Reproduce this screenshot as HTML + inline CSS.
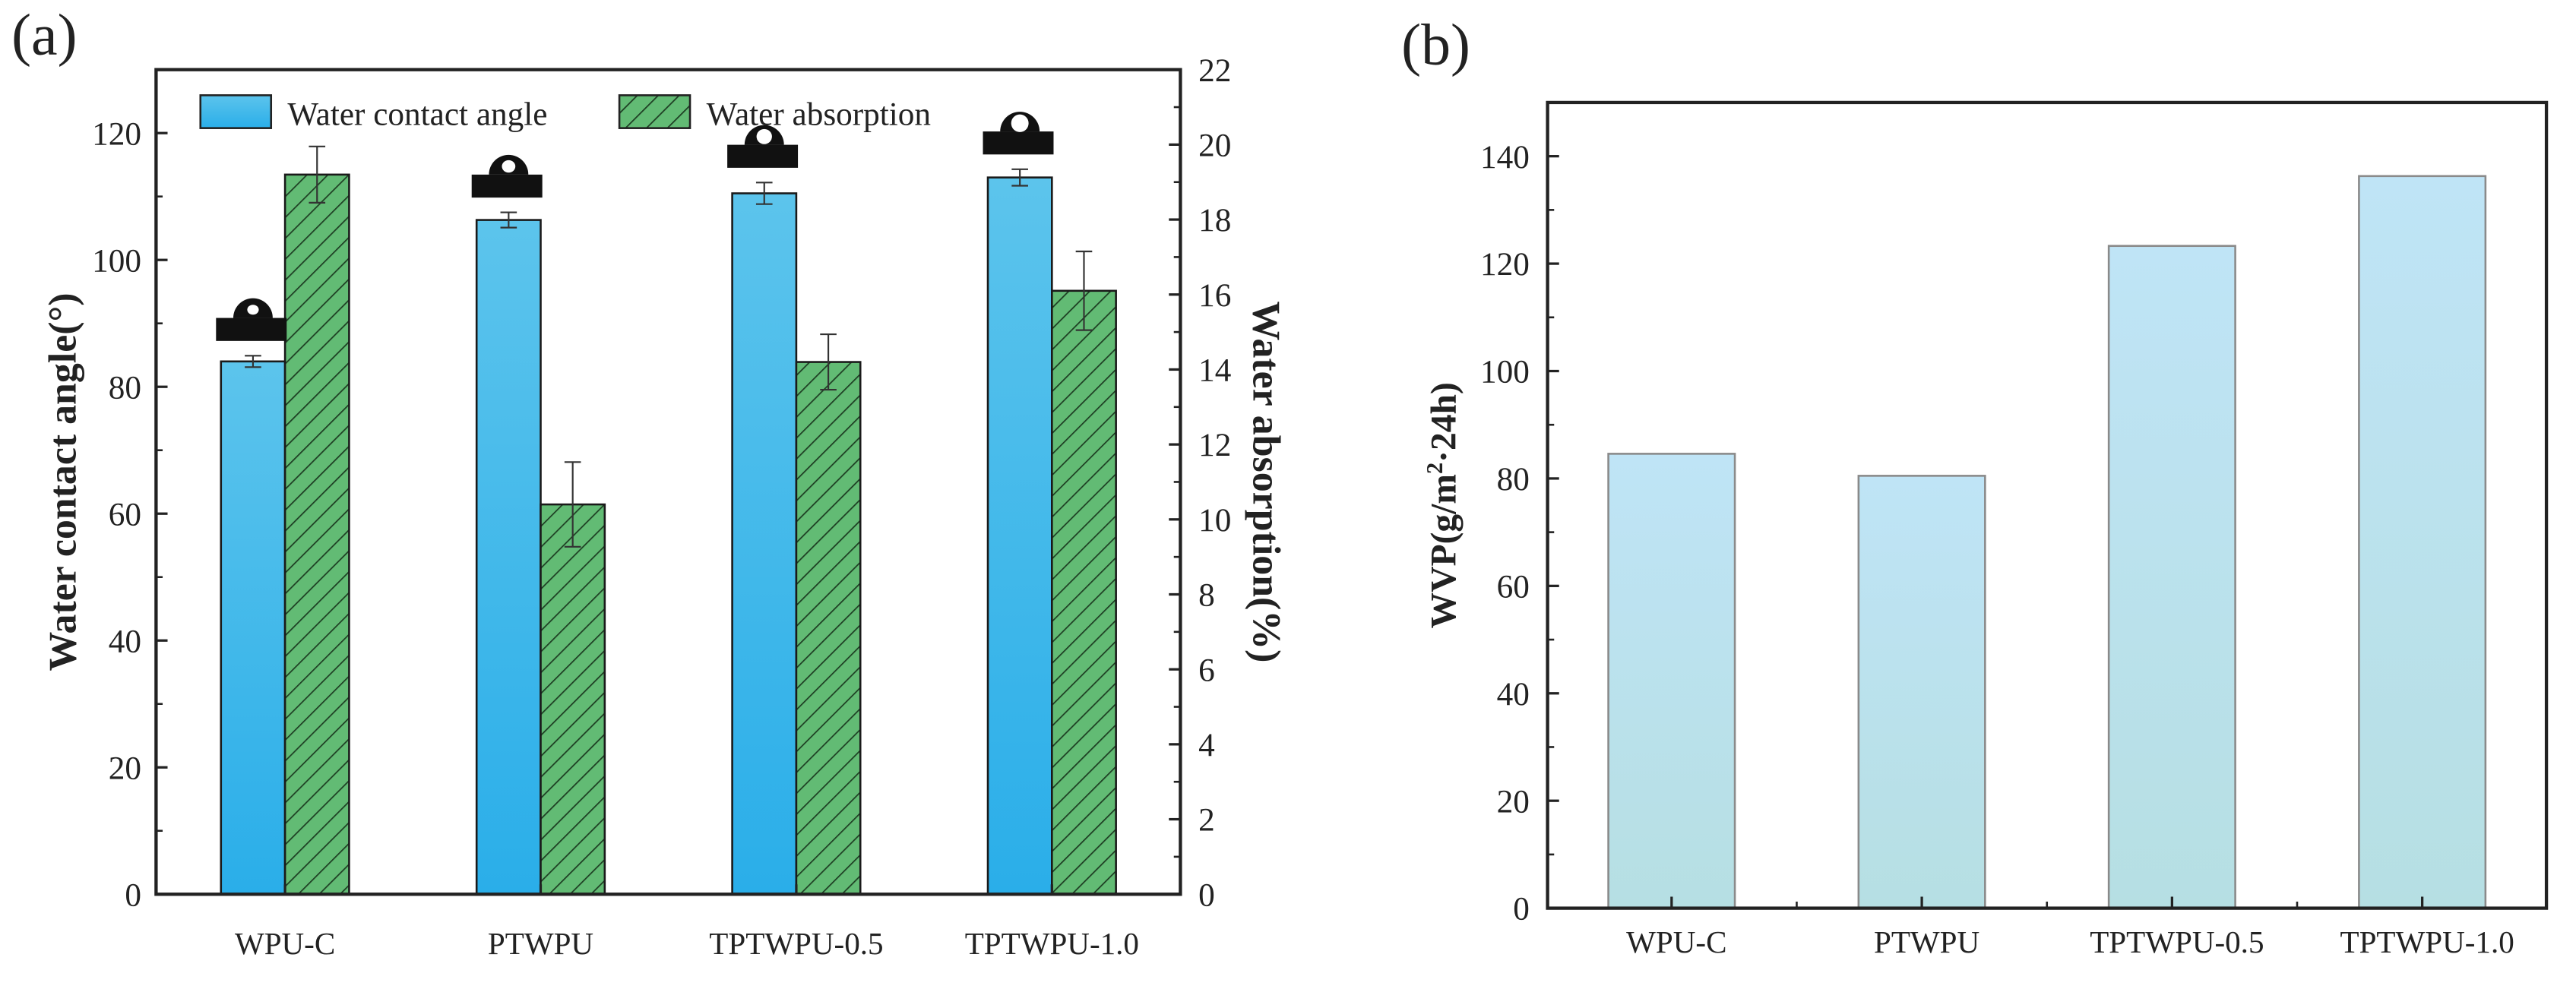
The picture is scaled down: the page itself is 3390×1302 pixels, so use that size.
<!DOCTYPE html>
<html><head><meta charset="utf-8"><style>
html,body{margin:0;padding:0;background:#fff;}
svg{display:block;font-family:"Liberation Serif",serif;}
</style></head><body>
<svg id="fig" width="3390" height="1302" viewBox="0 0 1568 602.2" xmlns="http://www.w3.org/2000/svg">
<defs>
<linearGradient id="gBlue" x1="0" y1="0" x2="0" y2="1"><stop offset="0" stop-color="#5cc4ec"/><stop offset="1" stop-color="#2aaee9"/></linearGradient>
<linearGradient id="gLight" x1="0" y1="0" x2="0" y2="1"><stop offset="0" stop-color="#bfe4f6"/><stop offset="1" stop-color="#b6dfe3"/></linearGradient>
<pattern id="hatch" patternUnits="userSpaceOnUse" width="9" height="9" patternTransform="rotate(45)">
<rect width="9" height="9" fill="#62bb74"/><line x1="0" y1="0" x2="0" y2="9" stroke="#1d3d22" stroke-width="1.6"/></pattern>
</defs>
<g id="pa"></g>
<g id="pb"></g>
</svg>
<script>
const catsA = ["WPU-C","PTWPU","TPTWPU-0.5","TPTWPU-1.0"];
const angleVals = [84, 106.3, 110.5, 113];
const angleErr = [0.9, 1.2, 1.7, 1.3];
const absorbVals = [19.2, 10.4, 14.2, 16.1];
const absorbErr = [0.75, 1.13, 0.74, 1.05];
const leftTicks = [0,20,40,60,80,100,120];
const rightTicks = [0,2,4,6,8,10,12,14,16,18,20,22];
const catsB = ["WPU-C","PTWPU","TPTWPU-0.5","TPTWPU-1.0"];
const wvpVals = [84.6, 80.5, 123.3, 136.3];
const wvpTicks = [0,20,40,60,80,100,120,140];

const NS="http://www.w3.org/2000/svg";
function mk(parent,tag,attrs,text){const e=document.createElementNS(NS,tag);for(const k in attrs)e.setAttribute(k,attrs[k]);if(text!==undefined)e.textContent=text;parent.appendChild(e);return e;}

// Panel A
const pa=document.getElementById('pa');
const A={x0:95,x1:718.5,yT:42.4,yB:544.5};
const yL=v=>A.yB-(v/130)*(A.yB-A.yT);
const yR=v=>A.yB-(v/22)*(A.yB-A.yT);
const xA=i=>173.5+i*155.6;
const bw=39;
let t;
t=mk(pa,'text',{x:7,y:33,'font-size':36,fill:'#222'},'(a)');

catsA.forEach((c,i)=>{
  const cx=xA(i);
  let r=mk(pa,'rect',{x:cx-bw,y:yL(angleVals[i]),width:bw,height:A.yB-yL(angleVals[i]),fill:'url(#gBlue)',stroke:'#1a1a1a','stroke-width':1.2});
  
  r=mk(pa,'rect',{x:cx,y:yR(absorbVals[i]),width:bw,height:A.yB-yR(absorbVals[i]),fill:'url(#hatch)',stroke:'#1a1a1a','stroke-width':1.2});
  
  const eb=(x,y1,y2,nm)=>{const g=mk(pa,'g',{stroke:'#333','stroke-width':1});
    mk(g,'line',{x1:x,x2:x,y1:y1,y2:y2});mk(g,'line',{x1:x-5,x2:x+5,y1:y1,y2:y1});mk(g,'line',{x1:x-5,x2:x+5,y1:y2,y2:y2});};
  eb(cx-bw/2,yL(angleVals[i]+angleErr[i]),yL(angleVals[i]-angleErr[i]),'contact-angle-error-'+i);
  eb(cx+bw/2,yR(absorbVals[i]+absorbErr[i]),yR(absorbVals[i]-absorbErr[i]),'absorption-error-'+i);
  const top=Math.min(yL(angleVals[i]+angleErr[i]),yL(angleVals[i]))-9;
  const g=mk(pa,'g',{});
  const dx=cx-bw/2;
  mk(g,'rect',{x:cx-bw-3,y:top-14,width:bw+4,height:14,fill:'#111'});
  mk(g,'path',{d:`M${dx-12} ${top-14} A12 12 0 0 1 ${dx+12} ${top-14} Z`,fill:'#111'});
  mk(g,'ellipse',{cx:dx,cy:top-19,rx:3.5+i*0.6,ry:3+i*0.8,fill:'#fff'});
  t=mk(pa,'text',{x:cx,y:581,'font-size':19,'text-anchor':'middle',fill:'#222'},c);
  
  mk(pa,'line',{x1:cx,x2:cx,y1:A.yB,y2:A.yB-6,stroke:'#222','stroke-width':1.5});
});
let fr=mk(pa,'rect',{x:A.x0,y:A.yT,width:A.x1-A.x0,height:A.yB-A.yT,fill:'none',stroke:'#222','stroke-width':2});

leftTicks.forEach(v=>{const y=yL(v);mk(pa,'line',{x1:A.x0,x2:A.x0+7,y1:y,y2:y,stroke:'#222','stroke-width':1.5});
  mk(pa,'line',{x1:A.x0,x2:A.x0+4,y1:yL(v+10),y2:yL(v+10),stroke:'#222','stroke-width':1.2});
  t=mk(pa,'text',{x:A.x0-9,y:y+7,'font-size':20,'text-anchor':'end',fill:'#222'},v);
  });
rightTicks.forEach(v=>{const y=yR(v);mk(pa,'line',{x1:A.x1,x2:A.x1-7,y1:y,y2:y,stroke:'#222','stroke-width':1.5});
  if(v<22)mk(pa,'line',{x1:A.x1,x2:A.x1-4,y1:yR(v+1),y2:yR(v+1),stroke:'#222','stroke-width':1.2});
  t=mk(pa,'text',{x:A.x1+11,y:y+7,'font-size':20,fill:'#222'},v);
  });
t=mk(pa,'text',{x:0,y:0,'font-size':24,'font-weight':'bold','text-anchor':'middle',fill:'#222',transform:`translate(46,${(A.yT+A.yB)/2}) rotate(-90)`},'Water contact angle(°)');

t=mk(pa,'text',{x:0,y:0,'font-size':24,'font-weight':'bold','text-anchor':'middle',fill:'#222',transform:`translate(763,${(A.yT+A.yB)/2}) rotate(90)`},'Water absorption(%)');

let lg=mk(pa,'g',{});
mk(lg,'rect',{x:122,y:58,width:43,height:20,fill:'url(#gBlue)',stroke:'#222','stroke-width':1.2});
t=mk(lg,'text',{x:175,y:76,'font-size':20,fill:'#222'},'Water contact angle');
mk(lg,'rect',{x:377,y:58,width:43,height:20,fill:'url(#hatch)',stroke:'#222','stroke-width':1.2});
t=mk(lg,'text',{x:430,y:76,'font-size':20,fill:'#222'},'Water absorption');

// Panel B
const pb=document.getElementById('pb');
const B={x0:942,x1:1550,yT:62.4,yB:553};
const yB=v=>B.yB-(v/150)*(B.yB-B.yT);
const xB=i=>1017.5+i*152.3;
const bw2=77;
t=mk(pb,'text',{x:853,y:39,'font-size':36,fill:'#222'},'(b)');

catsB.forEach((c,i)=>{const cx=xB(i);
  let r=mk(pb,'rect',{x:cx-bw2/2,y:yB(wvpVals[i]),width:bw2,height:B.yB-yB(wvpVals[i]),fill:'url(#gLight)',stroke:'#8a8a8a','stroke-width':1.2});
  
  mk(pb,'line',{x1:cx,x2:cx,y1:B.yB,y2:B.yB-7,stroke:'#222','stroke-width':1.5});
  if(i<3)mk(pb,'line',{x1:cx+76.15,x2:cx+76.15,y1:B.yB,y2:B.yB-4,stroke:'#222','stroke-width':1.2});
  t=mk(pb,'text',{x:cx+3,y:580,'font-size':19,'text-anchor':'middle',fill:'#222'},c);
  });
fr=mk(pb,'rect',{x:B.x0,y:B.yT,width:B.x1-B.x0,height:B.yB-B.yT,fill:'none',stroke:'#222','stroke-width':2});

wvpTicks.forEach(v=>{const y=yB(v);mk(pb,'line',{x1:B.x0,x2:B.x0+7,y1:y,y2:y,stroke:'#222','stroke-width':1.5});
  mk(pb,'line',{x1:B.x0,x2:B.x0+4,y1:yB(v+10),y2:yB(v+10),stroke:'#222','stroke-width':1.2});
  t=mk(pb,'text',{x:B.x0-11,y:y+7,'font-size':20,'text-anchor':'end',fill:'#222'},v);
  });
t=mk(pb,'text',{x:0,y:0,'font-size':22,'font-weight':'bold','text-anchor':'middle',fill:'#222',transform:`translate(886,${(B.yT+B.yB)/2}) rotate(-90)`});
t.innerHTML='WVP(g/m<tspan dy="-8" font-size="14">2</tspan><tspan dy="8">·24h)</tspan>';

</script>
</body></html>
